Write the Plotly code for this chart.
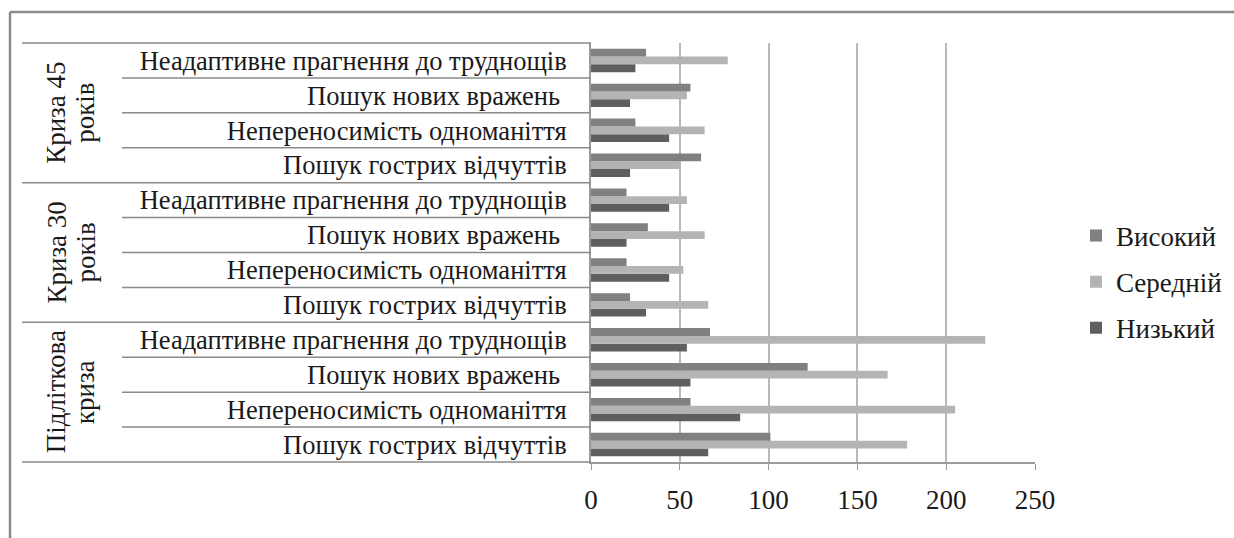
import plotly.graph_objects as go

groups = ["Підліткова криза", "Криза 30 років", "Криза 45 років"]
group_line1 = ["Підліткова", "Криза 30", "Криза 45"]
group_line2 = ["криза", "років", "років"]
items = ["Пошук гострих відчуттів", "Непереносимість одноманіття",
         "Пошук нових вражень ", "Неадаптивне прагнення до труднощів"]

# values per group, in item order (bottom to top within each group)
vysokyi_teen = [101, 56, 122, 67]
serednii_teen = [178, 205, 167, 222]
nyzkyi_teen = [66, 84, 56, 54]

vysokyi_30 = [22, 20, 32, 20]
serednii_30 = [66, 52, 64, 54]
nyzkyi_30 = [31, 44, 20, 44]

vysokyi_45 = [62, 25, 56, 31]
serednii_45 = [50, 64, 54, 77]
nyzkyi_45 = [22, 44, 22, 25]

series_names = ["Низький", "Середній", "Високий"]
colors = ["#5f5f5f", "#b4b4b4", "#808080"]

cat_ids = [f"{g}|{it}" for g in groups for it in items]
tick_text = [it for g in groups for it in items]

nyzkyi = nyzkyi_teen + nyzkyi_30 + nyzkyi_45
serednii = serednii_teen + serednii_30 + serednii_45
vysokyi = vysokyi_teen + vysokyi_30 + vysokyi_45

FONT = "Times New Roman, Liberation Serif, serif"

fig = go.Figure()
for name, vals, col in zip(series_names, [nyzkyi, serednii, vysokyi], colors):
    fig.add_trace(go.Bar(y=cat_ids, x=vals, orientation="h", name=name,
                         marker=dict(color=col, line=dict(width=0)),
                         legendgroup=name,
                         legendrank={"Високий": 1, "Середній": 2, "Низький": 3}[name]))

W, H = 1234, 538
L, R, T, B = 591, 1035, 43, 462
pw = R - L

fig.update_layout(
    width=W, height=H,
    margin=dict(l=L, r=W - R, t=T, b=H - B),
    paper_bgcolor="white", plot_bgcolor="white",
    barmode="group", bargap=0.33, bargroupgap=0,
    font=dict(family=FONT, size=22, color="#1a1a1a"),
    legend=dict(xref="container", yref="container",
                x=1076 / W, y=1 - 282 / H, xanchor="left", yanchor="middle",
                traceorder="grouped", tracegroupgap=8,
                font=dict(family=FONT, size=27, color="#1a1a1a"),
                itemwidth=30),
    showlegend=True,
)
fig.update_xaxes(range=[0, 250], tickvals=[0, 50, 100, 150, 200, 250],
                 showgrid=True, gridcolor="#b8b8b8", gridwidth=2,
                 showline=True, linecolor="#9a9a9a", linewidth=2,
                 ticks="outside", ticklen=6, tickcolor="#9a9a9a",
                 ticklabelstandoff=7, automargin=False,
                 tickfont=dict(family=FONT, size=27, color="#1a1a1a"),
                 zeroline=False)
fig.update_yaxes(type="category", categoryorder="array", categoryarray=cat_ids,
                 tickvals=cat_ids, ticktext=tick_text,
                 showline=True, linecolor="#9a9a9a", linewidth=2,
                 ticks="", ticklabelstandoff=17, automargin=False,
                 tickfont=dict(family=FONT, size=26.5, color="#1a1a1a"),
                 showgrid=False)

shapes = []
n = len(cat_ids)
for k in range(n + 1):
    yy = k / n
    x0 = (22 - L) / pw if k % 4 == 0 else (122 - L) / pw
    shapes.append(dict(type="line", xref="paper", yref="paper", x0=x0, x1=0,
                       y0=yy, y1=yy, line=dict(color="#8a8a8a", width=1.5)))
# outer chart border (left and top)
ytop = 1 + (T - 12) / (B - T)
shapes.append(dict(type="line", xref="paper", yref="paper",
                   x0=(10 - L) / pw, x1=(10 - L) / pw,
                   y0=-0.3, y1=ytop,
                   line=dict(color="#8a8a8a", width=2.5)))
shapes.append(dict(type="line", xref="paper", yref="paper",
                   x0=(10 - L) / pw, x1=(W + 10 - L) / pw,
                   y0=ytop, y1=ytop,
                   line=dict(color="#8a8a8a", width=2.5)))
fig.update_layout(shapes=shapes)

for gi in range(len(groups)):
    yc = (gi * 4 + 2) / n
    for txt, xpx in ((group_line1[gi], 56), (group_line2[gi], 85)):
        fig.add_annotation(text=txt, xref="paper", yref="paper",
                           x=(xpx - L) / pw, y=yc, showarrow=False,
                           textangle=-90, xanchor="center", yanchor="middle",
                           font=dict(family=FONT, size=27, color="#1a1a1a"),
                           align="center")

fig.write_html("out.html", config={"displayModeBar": False},
               post_script="document.body.style.margin='0';document.body.style.overflow='hidden';")
